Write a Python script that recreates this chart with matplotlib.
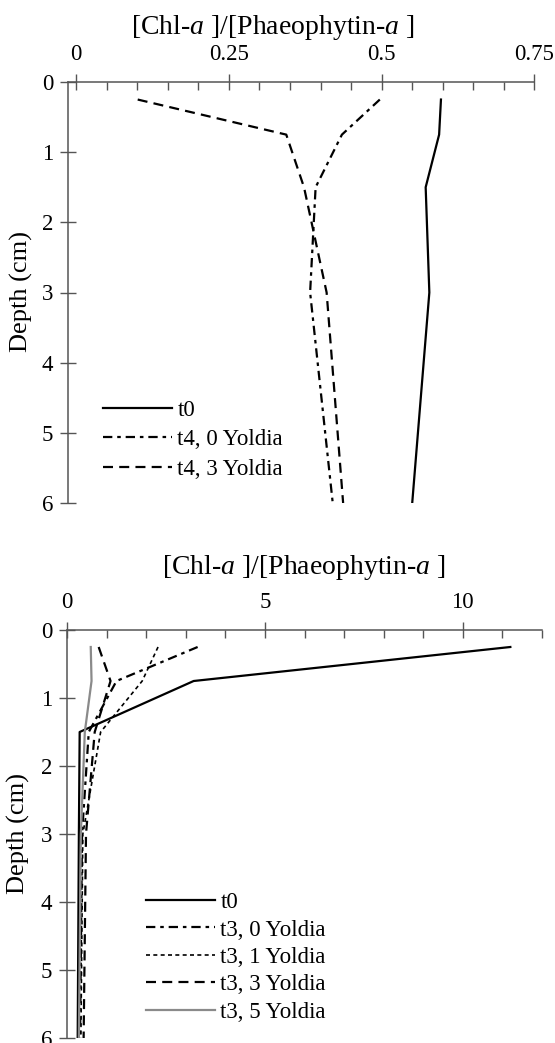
import matplotlib
matplotlib.use("Agg")
import matplotlib.pyplot as plt
from matplotlib.ticker import MultipleLocator, FixedLocator

plt.rcParams['font.family'] = ['Liberation Serif', 'DejaVu Serif']
plt.rcParams['mathtext.fontset'] = 'custom'
plt.rcParams['mathtext.rm'] = 'Liberation Serif'
plt.rcParams['mathtext.it'] = 'Liberation Serif:italic'

# ---------------- data ----------------
depth = [0.25, 0.75, 1.5, 3.0, 6.0]

# top panel (t4)
top_labels = ["t0", "t4, 0 Yoldia", "t4, 3 Yoldia"]
top_t0 = [0.597, 0.594, 0.572, 0.578, 0.550]
top_t4_0 = [0.497, 0.435, 0.392, 0.383, 0.420]
top_t4_3 = [0.101, 0.344, 0.373, 0.410, 0.437]

# bottom panel (t3)
bot_labels = ["t0", "t3, 0 Yoldia", "t3, 1 Yoldia", "t3, 3 Yoldia", "t3, 5 Yoldia"]
bot_t0 = [11.2, 3.2, 0.32, 0.30, 0.27]
bot_t3_0 = [3.3, 1.25, 0.55, 0.38, 0.33]
bot_t3_1 = [2.3, 1.9, 0.85, 0.40, 0.35]
bot_t3_3 = [0.8, 1.1, 0.70, 0.48, 0.42]
bot_t3_5 = [0.6, 0.62, 0.45, 0.35, 0.30]

xlabel = "[Chl-$a$ ]/[Phaeophytin-$a$ ]"
ylabel = "Depth (cm)"

W, H = 555, 1043
fig = plt.figure(figsize=(W / 100, H / 100), dpi=100)


def fx(px):
    return px / W


def fy(py):
    return 1 - py / H


spine_col = '#555555'
TICK_FS = 16.5
LEG_FS = 16.5


def style_axes(ax):
    for s in ['right', 'bottom']:
        ax.spines[s].set_visible(False)
    for s in ['top', 'left']:
        ax.spines[s].set_color(spine_col)
        ax.spines[s].set_linewidth(1.1)
    ax.xaxis.tick_top()
    ax.set_ylim(6, 0)
    ax.yaxis.set_major_locator(MultipleLocator(1))
    ax.tick_params(axis='y', direction='inout', length=11, width=1.0,
                   color=spine_col, labelsize=TICK_FS, pad=5)
    ax.tick_params(axis='x', which='major', direction='inout', length=12,
                   width=1.0, color=spine_col, labelsize=TICK_FS, pad=6)
    ax.tick_params(axis='x', which='minor', direction='in', length=6,
                   width=1.0, color=spine_col)
    ax.patch.set_alpha(0)


# ---------- top panel ----------
ax1 = fig.add_axes([fx(68), fy(503), fx(534.5) - fx(68), fy(82) - fy(503)])
lw = 1.6
ax1.plot(top_t0, depth, color='black', lw=lw, linestyle='-', label=top_labels[0])
ax1.plot(top_t4_0, depth, color='black', lw=lw, linestyle=(0, (4.2, 2.2, 1.6, 2.2)), label=top_labels[1])
ax1.plot(top_t4_3, depth, color='black', lw=lw, linestyle=(0, (4.5, 2.8)), label=top_labels[2])
ax1.set_xlim(-0.013, 0.75)
style_axes(ax1)
ax1.xaxis.set_major_locator(FixedLocator([0, 0.25, 0.5, 0.75]))
ax1.xaxis.set_minor_locator(MultipleLocator(0.05))
ax1.set_xticklabels(["0", "0.25", "0.5", "0.75"])
leg1 = ax1.legend(loc='upper left', bbox_to_anchor=(fx(103), fy(400)),
                  bbox_transform=fig.transFigure, frameon=False, fontsize=LEG_FS,
                  handlelength=3.0, handletextpad=0.25, borderpad=0,
                  borderaxespad=0, labelspacing=0.36)

fig.text(fx(273), fy(27), xlabel, ha='center', va='center', fontsize=20)
fig.text(fx(21), fy(292), ylabel, ha='center', va='center', rotation=90, fontsize=19)

# ---------- bottom panel ----------
ax2 = fig.add_axes([fx(67), fy(1038), fx(542) - fx(67), fy(630) - fy(1038)])
ax2.plot(bot_t0, depth, color='black', lw=lw, linestyle='-', label=bot_labels[0])
ax2.plot(bot_t3_0, depth, color='black', lw=lw, linestyle=(0, (4.2, 2.2, 1.6, 2.2)), label=bot_labels[1])
ax2.plot(bot_t3_1, depth, color='black', lw=1.2, linestyle=(0, (2.4, 2.0)), label=bot_labels[2])
ax2.plot(bot_t3_3, depth, color='black', lw=lw, linestyle=(0, (4.5, 2.8)), label=bot_labels[3])
ax2.plot(bot_t3_5, depth, color='#8a8a8a', lw=1.6, linestyle='-', label=bot_labels[4])
ax2.set_xlim(0, 12)
style_axes(ax2)
ax2.xaxis.set_major_locator(FixedLocator([0, 5, 10]))
ax2.xaxis.set_minor_locator(MultipleLocator(1))
leg2 = ax2.legend(loc='upper left', bbox_to_anchor=(fx(146), fy(892)),
                  bbox_transform=fig.transFigure, frameon=False, fontsize=LEG_FS,
                  handlelength=3.0, handletextpad=0.25, borderpad=0,
                  borderaxespad=0, labelspacing=0.28)

fig.text(fx(304), fy(567), xlabel, ha='center', va='center', fontsize=20)
fig.text(fx(18), fy(834), ylabel, ha='center', va='center', rotation=90, fontsize=19)

fig.savefig("out.png", dpi=100)
